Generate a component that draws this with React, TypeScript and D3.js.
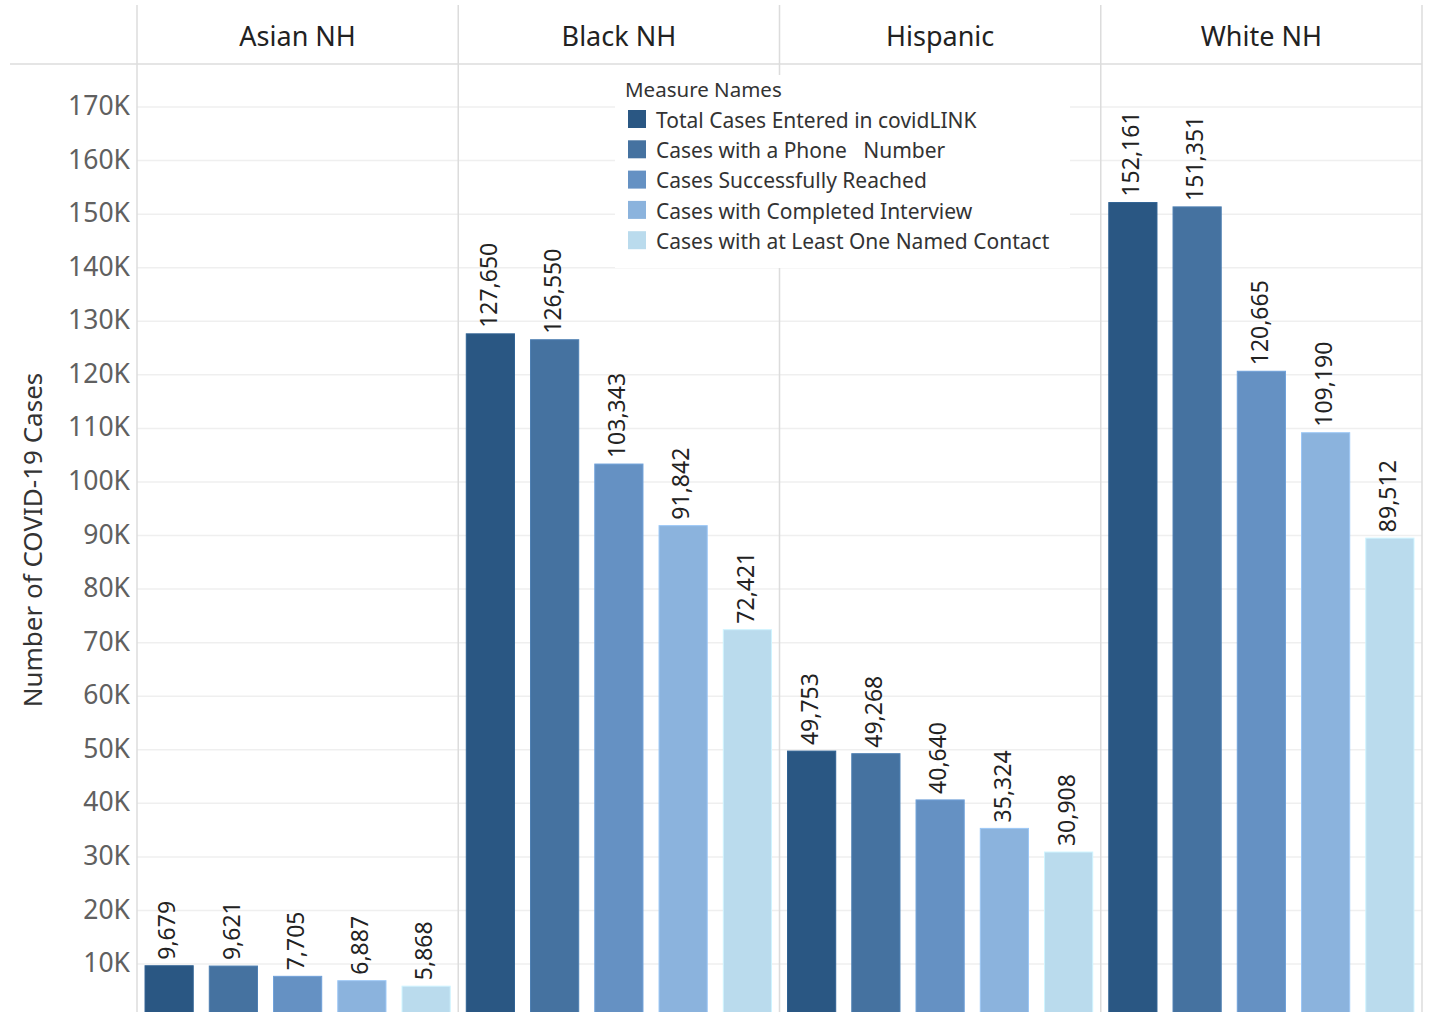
import React from "react";
import * as d3 from "d3";

const groups = ["Asian NH", "Black NH", "Hispanic", "White NH"];
const measures = [
  "Total Cases Entered in covidLINK",
  "Cases with a Phone   Number",
  "Cases Successfully Reached",
  "Cases with Completed Interview",
  "Cases with at Least One Named Contact",
];
const colors = ["#2a5783", "#4572a0", "#6591c3", "#8bb3dd", "#badbed"];
const asianValues = [9679, 9621, 7705, 6887, 5868];
const blackValues = [127650, 126550, 103343, 91842, 72421];
const hispanicValues = [49753, 49268, 40640, 35324, 30908];
const whiteValues = [152161, 151351, 120665, 109190, 89512];
const seriesByGroup = [asianValues, blackValues, hispanicValues, whiteValues];
const yTicks = [10000, 20000, 30000, 40000, 50000, 60000, 70000, 80000, 90000, 100000, 110000, 120000, 130000, 140000, 150000, 160000, 170000];

const W = 1429;
const H = 1012;
const FONT = "'Noto Sans', 'Open Sans', sans-serif";

export default function App() {
  const left = 137;
  const right = 1422;
  const headerBottom = 64;
  const y = d3.scaleLinear().domain([0, 170000]).range([1017.6, 107]);
  const panelX = d3.scaleBand<string>().domain(groups).range([left, right]).padding(0);
  const pw = panelX.bandwidth();
  const barX = d3.scaleBand<string>().domain(measures).range([0, pw]).paddingInner(0.25).paddingOuter(0.125);
  const fmt = d3.format(",");

  return (
    <div style={{ position: "absolute", left: 0, top: 0, width: W, height: H, overflow: "hidden" }}>
      <svg width={W} height={H} style={{ display: "block", fontFamily: FONT, background: "#fff" }}>
        {/* gridlines */}
        {yTicks.map((t) => (
          <line key={"g" + t} x1={left} x2={right} y1={y(t)} y2={y(t)} stroke="#efefef" strokeWidth={1.5} />
        ))}
        {/* header line */}
        <line x1={10} x2={right} y1={headerBottom} y2={headerBottom} stroke="#dcdcdc" strokeWidth={1.5} />
        {/* panel dividers */}
        {groups.map((g) => (
          <line key={"d" + g} x1={panelX(g)!} x2={panelX(g)!} y1={5} y2={H} stroke="#dcdcdc" strokeWidth={1.5} />
        ))}
        <line x1={right} x2={right} y1={5} y2={H} stroke="#dcdcdc" strokeWidth={1.5} />
        {/* headers */}
        {groups.map((g) => (
          <text key={"h" + g} x={panelX(g)! + pw / 2} y={39} textAnchor="middle" dominantBaseline="middle" fontSize={27} fill="#222">
            {g}
          </text>
        ))}
        {/* y ticks */}
        {yTicks.map((t) => (
          <text key={"t" + t} x={130} y={y(t) + 1} textAnchor="end" dominantBaseline="middle" fontSize={26.5} fill="#606060">
            {t / 1000 + "K"}
          </text>
        ))}
        {/* y title */}
        <text transform={`translate(35,540) rotate(-90)`} textAnchor="middle" dominantBaseline="middle" fontSize={26} fill="#333">
          Number of COVID-19 Cases
        </text>
        {/* bars */}
        {groups.map((g, gi) =>
          seriesByGroup[gi].map((v, mi) => {
            const x0 = panelX(g)! + barX(measures[mi])!;
            const bw = barX.bandwidth();
            return (
              <g key={g + mi}>
                <rect x={x0} y={y(v)} width={bw} height={H - y(v) + 10} fill={colors[mi]} stroke={d3.color(colors[mi])!.brighter(0.3).toString()} strokeWidth={1} />
                <text transform={`translate(${x0 + bw / 2},${y(v) - 6}) rotate(-90)`} dominantBaseline="middle" fontSize={23} fill="#222">
                  {fmt(v)}
                </text>
              </g>
            );
          })
        )}
        {/* legend */}
        <g>
          <rect x={615} y={75} width={455} height={193} fill="#fff" />
          <text x={625} y={91} dominantBaseline="middle" fontSize={20.5} fill="#333">
            Measure Names
          </text>
          {measures.map((m, i) => (
            <g key={"l" + i}>
              <rect x={628} y={110 + i * 30.3} width={18} height={18} fill={colors[i]} />
              <text x={656} y={122 + i * 30.3} dominantBaseline="middle" fontSize={21} fill="#333" style={{ whiteSpace: "pre" }}>
                {m}
              </text>
            </g>
          ))}
        </g>
      </svg>
    </div>
  );
}
